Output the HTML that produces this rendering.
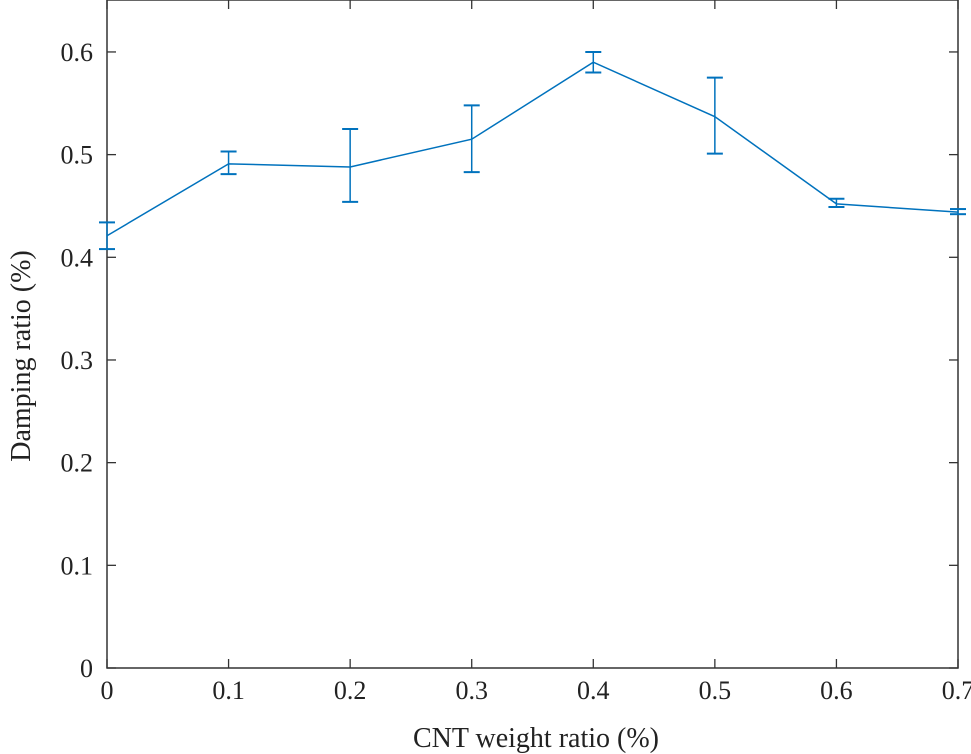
<!DOCTYPE html>
<html><head><meta charset="utf-8"><style>
html,body{margin:0;padding:0;background:#fff;}
svg{display:block;font-family:"Liberation Serif",serif;}
</style></head><body>
<svg id="chart" width="971" height="754">
<g id="axes"></g>
<g id="series"></g>
<text x="536" y="747" font-size="28" text-anchor="middle" fill="#222">CNT weight ratio (%)</text>
<text transform="translate(30,356) rotate(-90)" font-size="28" text-anchor="middle" fill="#222">Damping ratio (%)</text>
</svg>
<script>
const xCats=[0,0.1,0.2,0.3,0.4,0.5,0.6,0.7];
const yVals=[0.421,0.491,0.488,0.515,0.590,0.537,0.452,0.444];
const yLow=[0.408,0.481,0.454,0.483,0.580,0.501,0.449,0.442];
const yHigh=[0.434,0.503,0.525,0.548,0.600,0.575,0.457,0.447];
const xTicks=[0,0.1,0.2,0.3,0.4,0.5,0.6,0.7];
const xTickLabels=["0","0.1","0.2","0.3","0.4","0.5","0.6","0.7"];
const yTicks=[0,0.1,0.2,0.3,0.4,0.5,0.6];
const yTickLabels=["0","0.1","0.2","0.3","0.4","0.5","0.6"];
const L=107,R=958,T=0,B=668,XMAX=0.7,YMAX=0.6506;
const sx=v=>L+(v/XMAX)*(R-L);
const sy=v=>B-(v/YMAX)*(B-T);
const NS="http://www.w3.org/2000/svg";
function mk(tag,attrs,parent){const e=document.createElementNS(NS,tag);for(const k in attrs)e.setAttribute(k,attrs[k]);parent.appendChild(e);return e;}
const ax=document.getElementById('axes'),se=document.getElementById('series');
const box=mk('rect',{x:L,y:T,width:R-L,height:B-T,fill:'none',stroke:'#333','stroke-width':1.5},ax);


xTicks.forEach((v,i)=>{
  const x=sx(v);
  const t1=mk('line',{x1:x,x2:x,y1:B,y2:B-9,stroke:'#333','stroke-width':1.3},ax);
  
  
  const t2=mk('line',{x1:x,x2:x,y1:T,y2:T+9,stroke:'#333','stroke-width':1.3},ax);
  
  
  const tx=mk('text',{x:x,y:B+31,'font-size':26,'text-anchor':'middle',fill:'#222'},ax);
  tx.textContent=xTickLabels[i];
  
  
});
yTicks.forEach((v,i)=>{
  const y=sy(v);
  const t1=mk('line',{x1:L,x2:L+9,y1:y,y2:y,stroke:'#333','stroke-width':1.3},ax);
  
  
  const t2=mk('line',{x1:R,x2:R-9,y1:y,y2:y,stroke:'#333','stroke-width':1.3},ax);
  
  
  const tx=mk('text',{x:L-14,y:y+9,'font-size':26,'text-anchor':'end',fill:'#222'},ax);
  tx.textContent=yTickLabels[i];
  
  
});
const C='#0072BD';
const pl=mk('polyline',{points:xCats.map((v,i)=>sx(v)+','+sy(yVals[i])).join(' '),fill:'none',stroke:C,'stroke-width':1.5},se);


xCats.forEach((v,i)=>{
  const x=sx(v),y1=sy(yLow[i]),y2=sy(yHigh[i]);
  const g=mk('g',{},se);
  
  
  mk('line',{x1:x,x2:x,y1:y1,y2:y2,stroke:C,'stroke-width':1.5},g);
  mk('line',{x1:x-8,x2:x+8,y1:y1,y2:y1,stroke:C,'stroke-width':2},g);
  mk('line',{x1:x-8,x2:x+8,y1:y2,y2:y2,stroke:C,'stroke-width':2},g);
});
</script>
</body></html>
